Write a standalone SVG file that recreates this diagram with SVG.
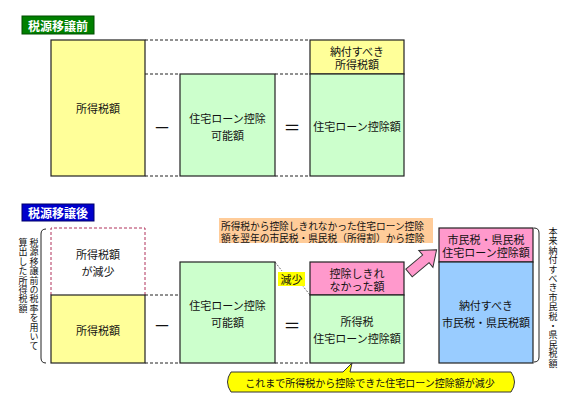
<svg xmlns="http://www.w3.org/2000/svg" width="574" height="400" viewBox="0 0 574 400">
<style>
text{font-family:"Noto Sans CJK JP","Noto Sans CJK SC",sans-serif;fill:#111;}
.t{font-size:11px;text-anchor:middle;dominant-baseline:central;}
.s{font-size:10px;dominant-baseline:central;}
.n{font-size:9.7px;dominant-baseline:central;}
.h{font-size:12px;font-weight:bold;fill:#fff;text-anchor:middle;dominant-baseline:central;}
.op{font-size:17px;text-anchor:middle;dominant-baseline:central;}
.v{font-size:9px;writing-mode:vertical-rl;letter-spacing:0.4px;}
.box{stroke:#222;stroke-width:1.2;}
.y{fill:#FFFF99;}
.g{fill:#CCFFCC;}
.p{fill:#FF99CC;}
.b{fill:#99CCFF;}
.d{stroke:#222;stroke-width:1;stroke-dasharray:3,2;fill:none;}
.lead{stroke:#444;stroke-width:0.8;stroke-dasharray:2,1.5;fill:none;}
.br{stroke:#222;stroke-width:1;fill:none;}
</style>

<g id="connectors">
  <line class="d" x1="145" y1="40" x2="310" y2="40"/>
  <line class="d" x1="145" y1="74" x2="180" y2="74"/>
  <line class="d" x1="275" y1="74" x2="310" y2="74"/>
  <line class="d" x1="145" y1="176" x2="180" y2="176"/>
  <line class="d" x1="275" y1="176" x2="310" y2="176"/>
  <line class="d" x1="145" y1="295" x2="180" y2="295"/>
  <line class="d" x1="145" y1="363" x2="180" y2="363"/>
  <line class="d" x1="275" y1="363" x2="310" y2="363"/>
  <line class="lead" x1="275" y1="262" x2="282" y2="271"/>
  <line class="lead" x1="302" y1="285" x2="310" y2="295"/>
  <path class="br" d="M46,229 Q41,229 41,234 L41,358 Q41,363 46,363"/>
  <path class="br" d="M534,228 Q539,228 539,233 L539,357 Q539,362 534,362"/>
</g>

<g id="title-before">
  <rect x="22" y="16" width="72" height="18" fill="#008000" stroke="#004d00" stroke-width="1"/>
  <text class="h" x="58" y="25">税源移譲前</text>
</g>

<g id="before-income-tax">
  <rect class="box y" x="51" y="40" width="94" height="136"/>
  <text class="t" x="98" y="108">所得税額</text>
</g>

<g id="before-minus">
  <text class="op" x="162" y="126">－</text>
</g>

<g id="before-deductible">
  <rect class="box g" x="180" y="74" width="95" height="102"/>
  <text class="t" x="227.5" y="118">住宅ローン控除</text>
  <text class="t" x="227.5" y="135">可能額</text>
</g>

<g id="before-equals">
  <text class="op" x="292" y="126">＝</text>
</g>

<g id="before-result">
  <rect class="box y" x="310" y="40" width="94" height="34"/>
  <rect class="box g" x="310" y="74" width="94" height="102"/>
  <text class="t" x="357" y="50.5">納付すべき</text>
  <text class="t" x="357" y="64">所得税額</text>
  <text class="t" x="357" y="126">住宅ローン控除額</text>
</g>

<g id="title-after">
  <rect x="22" y="204" width="72" height="17" fill="#0000CC" stroke="#00006a" stroke-width="1"/>
  <text class="h" x="58" y="212.5">税源移譲後</text>
</g>

<g id="after-label-left">
  <text class="v" x="34" y="238">税源移譲前の税率を用いて</text>
  <text class="v" x="23" y="238">算出した所得税額</text>
</g>

<g id="after-decrease">
  <path d="M51,295 L51,228 L145,228 L145,295" fill="none" stroke="#B0305A" stroke-width="1" stroke-dasharray="3,2"/>
  <text class="t" x="98" y="254">所得税額</text>
  <text class="t" x="98" y="271">が減少</text>
</g>

<g id="after-income-tax">
  <rect class="box y" x="51" y="295" width="94" height="68"/>
  <text class="t" x="98" y="330">所得税額</text>
</g>

<g id="after-minus">
  <text class="op" x="162" y="324">－</text>
</g>

<g id="after-deductible">
  <rect class="box g" x="180" y="262" width="95" height="101"/>
  <text class="t" x="227.5" y="305">住宅ローン控除</text>
  <text class="t" x="227.5" y="322">可能額</text>
</g>

<g id="after-equals">
  <text class="op" x="292" y="324">＝</text>
</g>

<g id="note-carry">
  <rect x="219" y="218" width="214" height="25" fill="#FFCC99"/>
  <text class="n" x="221" y="226">所得税から控除しきれなかった住宅ローン控除</text>
  <text class="n" x="221" y="237.5">額を翌年の市民税・県民税（所得割）から控除</text>
</g>

<g id="label-decrease">
  <rect x="278" y="272" width="27" height="14" fill="#FFFF00"/>
  <text class="t" x="291.5" y="279">減少</text>
</g>

<g id="after-result">
  <rect class="box p" x="310" y="262" width="94" height="33"/>
  <rect class="box g" x="310" y="295" width="94" height="68"/>
  <text class="t" x="357" y="272.5">控除しきれ</text>
  <text class="t" x="357" y="286">なかった額</text>
  <text class="t" x="357" y="321">所得税</text>
  <text class="t" x="357" y="338">住宅ローン控除額</text>
</g>

<g id="arrow-transfer">
  <polygon transform="translate(409,273) rotate(-40)" points="0,-5 22,-5 22,-11 36,0 22,11 22,5 0,5" fill="#FF99CC" stroke="#333" stroke-width="1"/>
</g>

<g id="after-local-tax">
  <rect class="box p" x="439" y="228" width="94" height="34"/>
  <rect class="box b" x="439" y="262" width="94" height="101"/>
  <text class="t" x="486" y="238.5">市民税・県民税</text>
  <text class="t" x="486" y="252">住宅ローン控除額</text>
  <text class="t" x="486" y="305">納付すべき</text>
  <text class="t" x="486" y="322">市民税・県民税額</text>
</g>

<g id="after-label-right">
  <text class="v" x="553" y="227">本来納付すべき市民税・県民税額</text>
</g>

<g id="note-decrease">
  <path d="M231,372 L343,372 L352,363 L350,372 L511,372 Q518,382 511,392 L231,392 Q224,382 231,372 Z" fill="#FFFF00" stroke="#333" stroke-width="1"/>
  <text class="s" x="370" y="382" text-anchor="middle">これまで所得税から控除できた住宅ローン控除額が減少</text>
</g>
</svg>
